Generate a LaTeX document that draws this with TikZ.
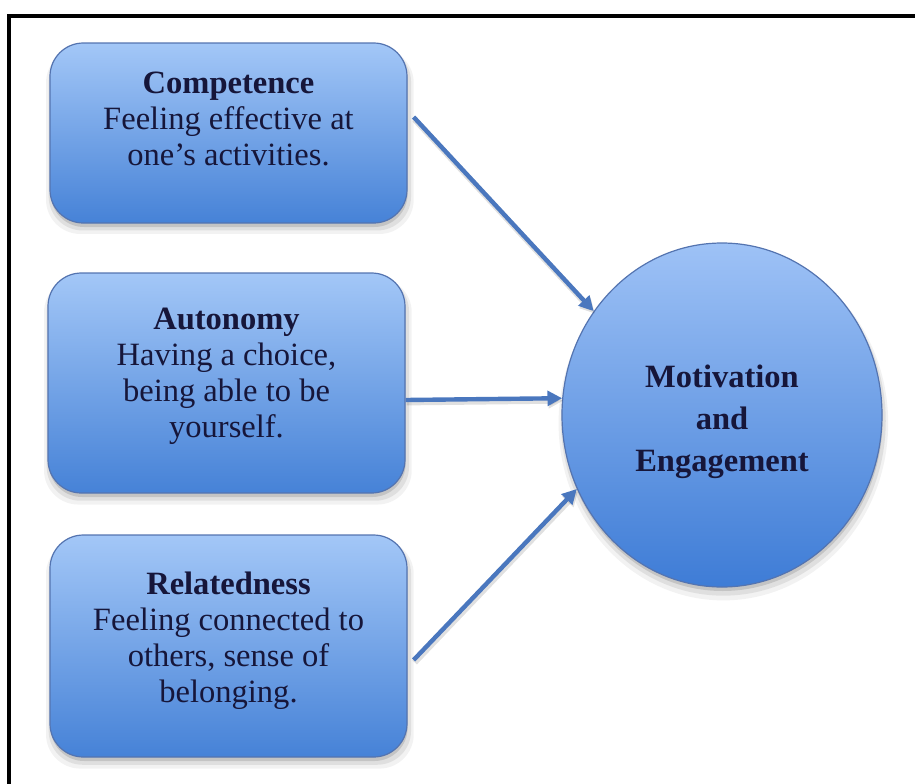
\documentclass[tikz,border=0pt]{standalone}
\usepackage{fontspec}
\setmainfont{Liberation Serif}
\usetikzlibrary{shapes.geometric,arrows.meta,shadows}

\definecolor{boxtop}{RGB}{163,199,247}
\definecolor{boxbot}{RGB}{70,130,215}
\definecolor{circtop}{RGB}{158,194,246}
\definecolor{circbot}{RGB}{62,124,214}
\definecolor{edge}{RGB}{84,116,176}
\definecolor{arrowblue}{RGB}{74,119,190}
\definecolor{ink}{RGB}{22,22,58}

\tikzset{
  softshadow/.style={
    general shadow={fill=black, opacity=0.05, shadow xshift=1pt, shadow yshift=-6pt, shadow scale=1.03},
    general shadow={fill=black, opacity=0.08, shadow xshift=1pt, shadow yshift=-4.5pt, shadow scale=1.015},
    general shadow={fill=black, opacity=0.12, shadow xshift=0.5pt, shadow yshift=-3pt},
  },
  card/.style={draw=edge, line width=0.9pt, rounded corners=25pt,
    top color=boxtop, bottom color=boxbot,
    minimum width=267.75pt, inner sep=0pt, softshadow},
  cardtext/.style={align=center, text=ink, inner sep=0pt,
    font=\fontsize{24.4}{27}\selectfont},
  goal/.style={ellipse, draw=edge, line width=0.9pt,
    top color=circtop, bottom color=circbot,
    minimum width=240pt, minimum height=258pt, inner sep=0pt, softshadow},
  goaltext/.style={align=center, text=ink, inner sep=0pt,
    font=\bfseries\fontsize{24.4}{31.5}\selectfont},
  link/.style={draw=arrowblue, line width=3.3pt,
    -{Triangle[length=11pt,width=11pt]},
    preaction={draw=black, opacity=0.12, line width=4.5pt,
      transform canvas={shift={(0.8pt,-1.8pt)}}}},
}

\begin{document}
\begin{tikzpicture}[x=0.75pt, y=-0.75pt]
  \useasboundingbox (0,0) rectangle (915,783);

  % page frame
  \draw[line width=3.4pt, line join=miter] (9,800) -- (9,16) -- (930,16);

  % the three needs
  \node[card, minimum height=135pt]   (b1) at (228.5,133) {};
  \node[card, minimum height=165pt]   (b2) at (226.5,383) {};
  \node[card, minimum height=166.5pt] (b3) at (228.5,646) {};

  \node[cardtext] (t1) at ([yshift=10.5pt]b1.center)
    {\textbf{Competence}\\Feeling effective at\\one’s activities.};
  \node[cardtext] (t2) at ([yshift=5.25pt]b2.center)
    {\textbf{Autonomy}\\Having a choice,\\being able to be\\yourself.};
  \node[cardtext] (t3) at ([yshift=3.75pt]b3.center)
    {\textbf{Relatedness}\\Feeling connected to\\others, sense of\\belonging.};

  % outcome
  \node[goal] (me) at (722,415) {};
  \node[goaltext] (tm) at ([yshift=-4.9pt]me.center)
    {Motivation\\and\\Engagement};

  % connectors
  \draw[link] ([xshift=4.5pt,yshift=12pt]b1.east) -- (me.141.5);
  \draw[link] ([yshift=-12.75pt]b2.east) -- (me.174.5);
  \draw[link] ([xshift=4.5pt,yshift=-10.5pt]b3.east) -- (me.207.6);
\end{tikzpicture}
\end{document}
